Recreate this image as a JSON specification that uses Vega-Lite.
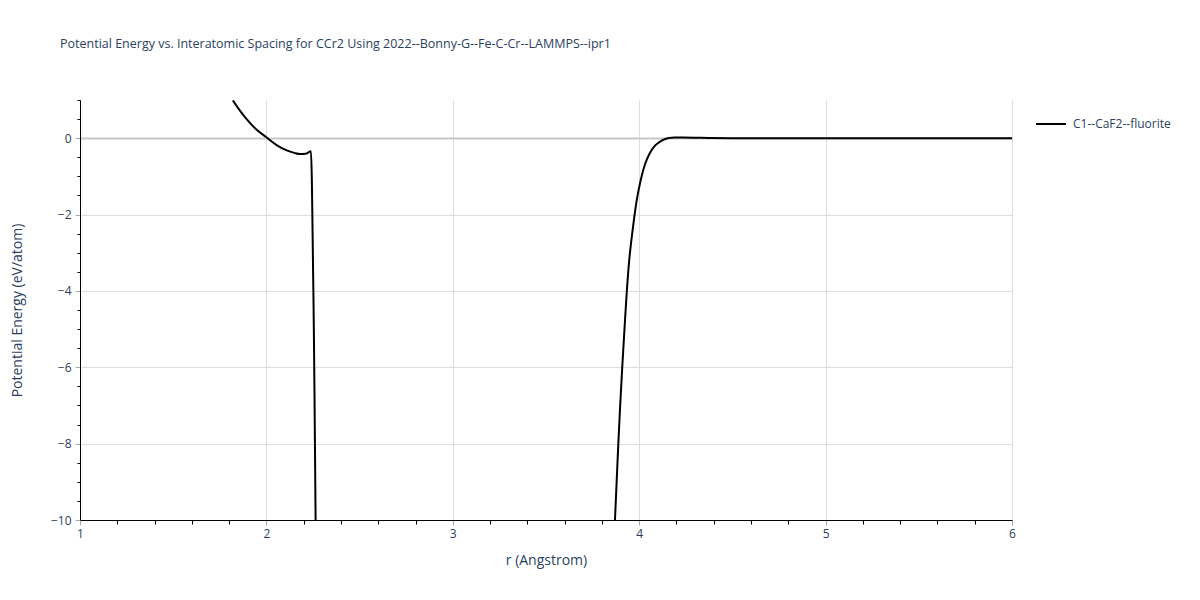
{
  "$schema": "https://vega.github.io/schema/vega-lite/v6.json",
  "width": 932,
  "height": 420,
  "autosize": {"type": "none"},
  "padding": {"left": 80, "top": 100, "right": 188, "bottom": 80},
  "background": "white",
  "config": {
    "font": "Open Sans",
    "view": {"stroke": null}
  },
  "title": {
    "text": "Potential Energy vs. Interatomic Spacing for CCr2 Using 2022--Bonny-G--Fe-C-Cr--LAMMPS--ipr1",
    "anchor": "start",
    "frame": "group",
    "dx": -20,
    "offset": 44,
    "fontSize": 12.5,
    "fontWeight": "normal",
    "color": "#2a3f5f",
    "font": "Open Sans"
  },
  "data": {
    "values": [
      {"r": 1.82, "E": 0.99, "s": "C1--CaF2--fluorite"},
      {"r": 1.86, "E": 0.71, "s": "C1--CaF2--fluorite"},
      {"r": 1.894, "E": 0.50, "s": "C1--CaF2--fluorite"},
      {"r": 1.948, "E": 0.22, "s": "C1--CaF2--fluorite"},
      {"r": 1.998, "E": 0.03, "s": "C1--CaF2--fluorite"},
      {"r": 2.055, "E": -0.18, "s": "C1--CaF2--fluorite"},
      {"r": 2.109, "E": -0.32, "s": "C1--CaF2--fluorite"},
      {"r": 2.15, "E": -0.385, "s": "C1--CaF2--fluorite"},
      {"r": 2.18, "E": -0.415, "s": "C1--CaF2--fluorite"},
      {"r": 2.21, "E": -0.41, "s": "C1--CaF2--fluorite"},
      {"r": 2.239, "E": -0.345, "s": "C1--CaF2--fluorite"},
      {"r": 2.252, "E": -4.0, "s": "C1--CaF2--fluorite"},
      {"r": 2.278, "E": -15.0, "s": "C1--CaF2--fluorite"},
      {"r": 3.825, "E": -15.0, "s": "C1--CaF2--fluorite"},
      {"r": 3.870, "E": -10.0, "s": "C1--CaF2--fluorite"},
      {"r": 3.879, "E": -9.0, "s": "C1--CaF2--fluorite"},
      {"r": 3.888, "E": -8.0, "s": "C1--CaF2--fluorite"},
      {"r": 3.898, "E": -7.0, "s": "C1--CaF2--fluorite"},
      {"r": 3.909, "E": -6.0, "s": "C1--CaF2--fluorite"},
      {"r": 3.921, "E": -5.0, "s": "C1--CaF2--fluorite"},
      {"r": 3.933, "E": -4.05, "s": "C1--CaF2--fluorite"},
      {"r": 3.946, "E": -3.22, "s": "C1--CaF2--fluorite"},
      {"r": 3.961, "E": -2.55, "s": "C1--CaF2--fluorite"},
      {"r": 3.974, "E": -2.05, "s": "C1--CaF2--fluorite"},
      {"r": 3.988, "E": -1.59, "s": "C1--CaF2--fluorite"},
      {"r": 4.007, "E": -1.12, "s": "C1--CaF2--fluorite"},
      {"r": 4.032, "E": -0.67, "s": "C1--CaF2--fluorite"},
      {"r": 4.056, "E": -0.40, "s": "C1--CaF2--fluorite"},
      {"r": 4.086, "E": -0.19, "s": "C1--CaF2--fluorite"},
      {"r": 4.122, "E": -0.06, "s": "C1--CaF2--fluorite"},
      {"r": 4.158, "E": 0.005, "s": "C1--CaF2--fluorite"},
      {"r": 4.19, "E": 0.02, "s": "C1--CaF2--fluorite"},
      {"r": 4.237, "E": 0.02, "s": "C1--CaF2--fluorite"},
      {"r": 4.326, "E": 0.01, "s": "C1--CaF2--fluorite"},
      {"r": 4.5, "E": 0.0, "s": "C1--CaF2--fluorite"},
      {"r": 5.0, "E": 0.0, "s": "C1--CaF2--fluorite"},
      {"r": 6.0, "E": 0.0, "s": "C1--CaF2--fluorite"}
    ]
  },
  "mark": {"type": "line", "clip": true, "strokeWidth": 2, "interpolate": "monotone"},
  "encoding": {
    "x": {
      "field": "r",
      "type": "quantitative",
      "scale": {"domain": [1, 6], "nice": false, "zero": false},
      "axis": {
        "title": "r (Angstrom)",
        "titleFontSize": 14,
        "titleFontWeight": "normal",
        "titleColor": "#2a3f5f",
        "titlePadding": 14,
        "values": [1, 1.2, 1.4, 1.6, 1.8, 2, 2.2, 2.4, 2.6, 2.8, 3, 3.2, 3.4, 3.6, 3.8, 4, 4.2, 4.4, 4.6, 4.8, 5, 5.2, 5.4, 5.6, 5.8, 6],
        "labelExpr": "abs(datum.value - round(datum.value)) < 0.001 ? format(datum.value, 'd') : ''",
        "labelOverlap": false,
        "labelFlush": false,
        "labelFontSize": 12,
        "labelColor": "#2a3f5f",
        "labelPadding": 3,
        "domainColor": "black",
        "domainWidth": 1,
        "tickColor": {"condition": {"test": "abs(datum.value - round(datum.value)) < 0.001", "value": "#aaaaaa"}, "value": "black"},
        "tickSize": {"condition": {"test": "abs(datum.value - round(datum.value)) < 0.001", "value": 5}, "value": 4},
        "tickWidth": 1,
        "grid": true,
        "gridColor": "#dddddd",
        "gridOpacity": {"condition": {"test": "abs(datum.value - round(datum.value)) < 0.001", "value": 1}, "value": 0}
      }
    },
    "y": {
      "field": "E",
      "type": "quantitative",
      "scale": {"domain": [-10, 1], "nice": false, "zero": false},
      "axis": {
        "title": "Potential Energy (eV/atom)",
        "titleFontSize": 14,
        "titleFontWeight": "normal",
        "titleColor": "#2a3f5f",
        "titlePadding": 26,
        "values": [-10, -9.5, -9, -8.5, -8, -7.5, -7, -6.5, -6, -5.5, -5, -4.5, -4, -3.5, -3, -2.5, -2, -1.5, -1, -0.5, 0, 0.5, 1],
        "labelExpr": "(abs(datum.value - round(datum.value)) < 0.001 && round(datum.value) % 2 == 0) ? format(datum.value, 'd') : ''",
        "labelOverlap": false,
        "labelFlush": false,
        "labelFontSize": 12,
        "labelColor": "#2a3f5f",
        "labelPadding": 4,
        "domainColor": "black",
        "domainWidth": 1,
        "tickColor": {"condition": {"test": "abs(datum.value - round(datum.value)) < 0.001 && round(datum.value) % 2 == 0", "value": "#aaaaaa"}, "value": "black"},
        "tickSize": {"condition": {"test": "abs(datum.value - round(datum.value)) < 0.001 && round(datum.value) % 2 == 0", "value": 5}, "value": 3},
        "tickWidth": 1,
        "grid": true,
        "gridColor": {"condition": {"test": "datum.value == 0", "value": "#c8c8c8"}, "value": "#dddddd"},
        "gridWidth": {"condition": {"test": "datum.value == 0", "value": 2}, "value": 1},
        "gridOpacity": {"condition": {"test": "abs(datum.value - round(datum.value)) < 0.001 && round(datum.value) % 2 == 0", "value": 1}, "value": 0}
      }
    },
    "color": {
      "field": "s",
      "type": "nominal",
      "scale": {"range": ["black"]},
      "legend": {
        "title": null,
        "orient": "none",
        "legendX": 955,
        "legendY": 8,
        "padding": 0,
        "symbolType": "stroke",
        "symbolSize": 900,
        "symbolStrokeWidth": 2,
        "labelFontSize": 12,
        "labelColor": "#2a3f5f",
        "labelOffset": 6
      }
    }
  }
}
